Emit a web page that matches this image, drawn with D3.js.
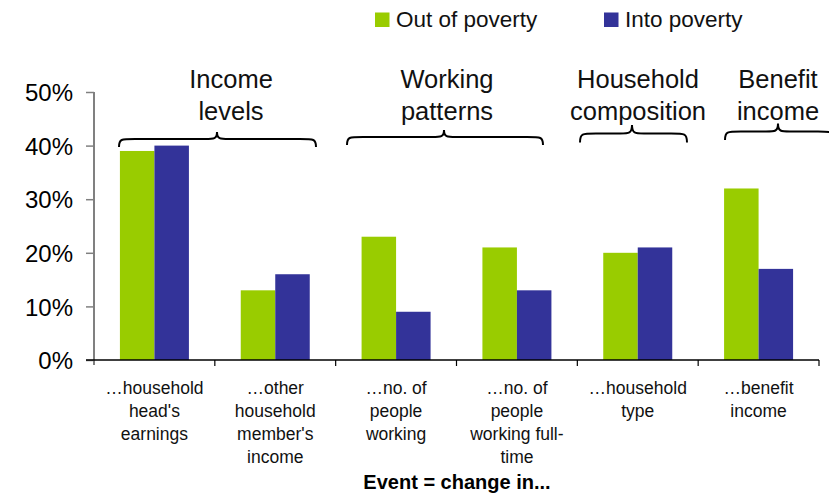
<!DOCTYPE html>
<html>
<head>
<meta charset="utf-8">
<script src="https://cdn.jsdelivr.net/npm/d3@7"></script>
<style>
  html, body { margin: 0; padding: 0; background: #fff; }
  svg { display: block; font-family: "Liberation Sans", Arial, sans-serif; }
</style>
</head>
<body>
<svg id="chart" width="829" height="493"></svg>
<script>
// Share of poverty transitions associated with each event type
const categories = [
  ["\u2026household", "head's", "earnings"],
  ["\u2026other", "household", "member's", "income"],
  ["\u2026no. of", "people", "working"],
  ["\u2026no. of", "people", "working full-", "time"],
  ["\u2026household", "type"],
  ["\u2026benefit", "income"]
];
const seriesNames = ["Out of poverty", "Into poverty"];
const outOfPoverty = [39, 13, 23, 21, 20, 32];
const intoPoverty  = [40, 16, 9, 13, 21, 17];
const yTicks = [0, 10, 20, 30, 40, 50];
const groupNames = [
  ["Income", "levels"],
  ["Working", "patterns"],
  ["Household", "composition"],
  ["Benefit", "income"]
];
const xTitle = "Event = change in...";

const colors = ["#99CC00", "#333399"];

const svg = d3.select("#chart");
const plotLeft = 94, plotRight = 819, plotTop = 92, plotBottom = 360;

const x = d3.scaleBand().domain(d3.range(categories.length)).range([plotLeft, plotRight]).padding(0);
const y = d3.scaleLinear().domain([0, 50]).range([plotBottom, plotTop]);
const barW = 34.5;
const sub = d3.scaleBand().domain([0, 1]).range([-barW, barW]).padding(0);

// Bars
const rows = categories.map((c, i) => [outOfPoverty[i], intoPoverty[i]]);
const g = svg.append("g");
rows.forEach((vals, i) => {
  g.selectAll(null).data(vals).join("rect")
    .attr("x", (d, j) => x(i) + x.bandwidth() / 2 + sub(j))
    .attr("y", d => y(d))
    .attr("width", sub.bandwidth())
    .attr("height", d => y(0) - y(d))
    .attr("fill", (d, j) => colors[j]);
});

// Y axis
const yAxis = svg.append("g").attr("transform", `translate(${plotLeft},0)`)
  .call(d3.axisLeft(y).tickValues(yTicks).tickFormat(d => d + "%").tickSize(8).tickPadding(13));
yAxis.select(".domain").attr("stroke", "#808080").attr("stroke-width", 2)
  .attr("d", `M0,${plotTop}V${plotBottom + 5}`);
yAxis.selectAll(".tick line").attr("stroke", "#808080").attr("stroke-width", 1.5);
yAxis.selectAll(".tick text").attr("fill", "#000").attr("font-size", 24)
  .attr("font-family", "Liberation Sans, Arial, sans-serif").attr("dy", "0.36em");

// X axis baseline with category boundary ticks
svg.append("line").attr("x1", plotLeft - 8).attr("x2", plotRight).attr("y1", plotBottom).attr("y2", plotBottom)
  .attr("stroke", "#000").attr("stroke-width", 1.5);
const bounds = d3.range(1, categories.length + 1).map(i => i < categories.length ? x(i) : plotRight);
svg.selectAll(null).data(bounds).join("line")
  .attr("x1", d => d).attr("x2", d => d).attr("y1", plotBottom).attr("y2", plotBottom + 6)
  .attr("stroke", "#000").attr("stroke-width", 1.2);

// Category labels
categories.forEach((lines, i) => {
  const t = svg.append("text").attr("text-anchor", "middle").attr("font-size", 17.5).attr("fill", "#111");
  lines.forEach((s, k) => {
    t.append("tspan").attr("x", x(i) + x.bandwidth() / 2).attr("y", 394 + k * 23).text(s);
  });
});

// Axis title
svg.append("text").attr("x", 457).attr("y", 489).attr("text-anchor", "middle")
  .attr("font-size", 20).attr("font-weight", "bold").text(xTitle);

// Legend
const legendX = [375, 604];
seriesNames.forEach((name, j) => {
  svg.append("rect").attr("x", legendX[j]).attr("y", 12.5).attr("width", 14.5).attr("height", 14.5).attr("fill", colors[j]);
  svg.append("text").attr("x", legendX[j] + 21).attr("y", 27).attr("font-size", 22.5).attr("fill", "#111").text(name);
});

// Group headings with curly braces
const groupLayout = [
  { cx: 231, x0: 119, x1: 316, tip: 217, yTip: 132, yH: 139, yEnd: 147 },
  { cx: 447, x0: 347, x1: 543, tip: 444, yTip: 130, yH: 137, yEnd: 145 },
  { cx: 638, x0: 580, x1: 687, tip: 632, yTip: 125, yH: 133.5, yEnd: 142.5 },
  { cx: 778, x0: 725, x1: 834, tip: 778, yTip: 123.5, yH: 131.5, yEnd: 140 }
];
function bracePath(b) {
  const r = 8;
  return `M${b.x0},${b.yEnd}` +
    `C${b.x0},${b.yH} ${b.x0 + 2},${b.yH} ${b.x0 + r * 2},${b.yH}` +
    `L${b.tip - r * 1.5},${b.yH}` +
    `C${b.tip - 3},${b.yH} ${b.tip},${b.yH} ${b.tip},${b.yTip}` +
    `C${b.tip},${b.yH} ${b.tip + 3},${b.yH} ${b.tip + r * 1.5},${b.yH}` +
    `L${b.x1 - r * 2},${b.yH}` +
    `C${b.x1 - 2},${b.yH} ${b.x1},${b.yH} ${b.x1},${b.yEnd}`;
}
groupNames.forEach((lines, i) => {
  const b = groupLayout[i];
  const t = svg.append("text").attr("text-anchor", "middle").attr("font-size", 25.5).attr("fill", "#111");
  lines.forEach((s, k) => t.append("tspan").attr("x", b.cx).attr("y", 88 + k * 32).text(s));
  svg.append("path").attr("d", bracePath(b)).attr("fill", "none").attr("stroke", "#000").attr("stroke-width", 2);
});
</script>
</body>
</html>
